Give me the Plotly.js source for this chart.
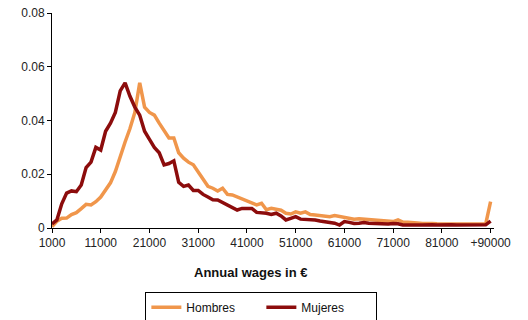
<!DOCTYPE html>
<html><head><meta charset="utf-8">
<script src="https://cdn.plot.ly/plotly-3.0.1.min.js"></script>
<style>html,body{margin:0;padding:0;background:#fff}#c{width:528px;height:320px}</style>
</head><body><div id="c"></div>
<script>
const categories = ["1000","2000","3000","4000","5000","6000","7000","8000","9000","10000",
"11000","12000","13000","14000","15000","16000","17000","18000","19000","20000",
"21000","22000","23000","24000","25000","26000","27000","28000","29000","30000",
"31000","32000","33000","34000","35000","36000","37000","38000","39000","40000",
"41000","42000","43000","44000","45000","46000","47000","48000","49000","50000",
"51000","52000","53000","54000","55000","56000","57000","58000","59000","60000",
"61000","62000","63000","64000","65000","66000","67000","68000","69000","70000",
"71000","72000","73000","74000","75000","76000","77000","78000","79000","80000",
"81000","82000","83000","84000","85000","86000","87000","88000","89000","90000","+90000"];

const hombres = [0.0005,0.0025,0.0036,0.0037,0.0050,0.0057,0.0072,0.0088,0.0086,0.0098,
0.0115,0.0140,0.0168,0.0210,0.0270,0.0320,0.0370,0.0430,0.0540,0.0450,
0.0430,0.0420,0.0390,0.0360,0.0335,0.0335,0.0280,0.0260,0.0245,0.0235,
0.0210,0.0180,0.0155,0.0148,0.0138,0.0148,0.0125,0.0123,0.0115,0.0110,
0.0100,0.0092,0.0086,0.0092,0.0068,0.0073,0.0068,0.0066,0.0055,0.0052,
0.0060,0.0055,0.0060,0.0050,0.0048,0.0045,0.0042,0.0042,0.0046,0.0042,
0.0038,0.0036,0.0033,0.0034,0.0033,0.0031,0.0030,0.0028,0.0026,0.0025,
0.0024,0.0030,0.0022,0.0021,0.0021,0.0019,0.0017,0.0018,0.0017,0.0016,
0.0016,0.0015,0.0015,0.0015,0.0015,0.0016,0.0018,0.0016,0.0015,0.0015,0.0098];

const mujeres = [0.0015,0.0030,0.0090,0.0130,0.0138,0.0135,0.0160,0.0225,0.0245,0.0300,
0.0290,0.0360,0.0390,0.0430,0.0510,0.0540,0.0490,0.0450,0.0420,0.0360,
0.0330,0.0300,0.0280,0.0235,0.0240,0.0250,0.0170,0.0155,0.0160,0.0140,
0.0140,0.0125,0.0115,0.0105,0.0104,0.0095,0.0085,0.0078,0.0067,0.0073,
0.0073,0.0073,0.0058,0.0058,0.0055,0.0050,0.0055,0.0045,0.0030,0.0036,
0.0042,0.0033,0.0033,0.0033,0.0030,0.0026,0.0024,0.0022,0.0018,0.0011,
0.0024,0.0021,0.0017,0.0018,0.0020,0.0018,0.0017,0.0016,0.0014,0.0015,
0.0017,0.0016,0.0011,0.0012,0.0012,0.0011,0.0011,0.0013,0.0012,0.0011,
0.0012,0.0011,0.0012,0.0011,0.0011,0.0012,0.0011,0.0011,0.0012,0.0012,0.0026];

const tickLabels = ["1000","11000","21000","31000","41000","51000","61000","71000","81000","+90000"];
const yTicks = [0,0.02,0.04,0.06,0.08];
const seriesNames = ["Hombres","Mujeres"];

const traces = [
  {x: categories, y: hombres, name: seriesNames[0], type: 'scatter', mode: 'lines',
   line: {color: '#F0964B', width: 3.5}},
  {x: categories, y: mujeres, name: seriesNames[1], type: 'scatter', mode: 'lines',
   line: {color: '#8C0C0C', width: 3.5}}
];

const layout = {
  width: 528, height: 320,
  margin: {l: 52, r: 34, t: 13, b: 92, autoexpand: false},
  paper_bgcolor: '#fff', plot_bgcolor: '#fff',
  font: {family: 'Liberation Sans, Arial, sans-serif', size: 12, color: '#222'},
  showlegend: true,
  xaxis: {
    type: 'category', range: [0, 90.7], automargin: false,
    tickmode: 'array', tickvals: tickLabels, ticktext: tickLabels,
    showline: true, linecolor: '#000', linewidth: 1,
    ticks: 'outside', ticklen: 4, tickcolor: '#000',
    showgrid: false, zeroline: false, tickangle: 0,
    tickfont: {size: 12, color: '#222'}
  },
  yaxis: {
    range: [0, 0.08], tickmode: 'array', tickvals: yTicks, automargin: false,
    ticktext: ["0","0.02","0.04","0.06","0.08"],
    showline: true, linecolor: '#000', linewidth: 1,
    ticks: 'outside', ticklen: 4, tickcolor: '#000',
    showgrid: false, zeroline: false,
    tickfont: {size: 12, color: '#222'}
  },
  legend: {
    orientation: 'h', xref: 'container', yref: 'container',
    x: 0.495, xanchor: 'center', y: 0.088, yanchor: 'top',
    bordercolor: '#000', borderwidth: 1, font: {size: 12, color: '#111'},
    itemwidth: 30, tracegroupgap: 0, entrywidth: 70
  },
  annotations: [{
    text: '<b>Annual wages in €</b>', xref: 'paper', yref: 'paper',
    x: 0.448, y: -0.2076, xanchor: 'center', yanchor: 'middle',
    showarrow: false, font: {size: 13, color: '#111'}
  }]
};

Plotly.newPlot('c', traces, layout, {displayModeBar: false, staticPlot: true});
</script>
</body></html>
